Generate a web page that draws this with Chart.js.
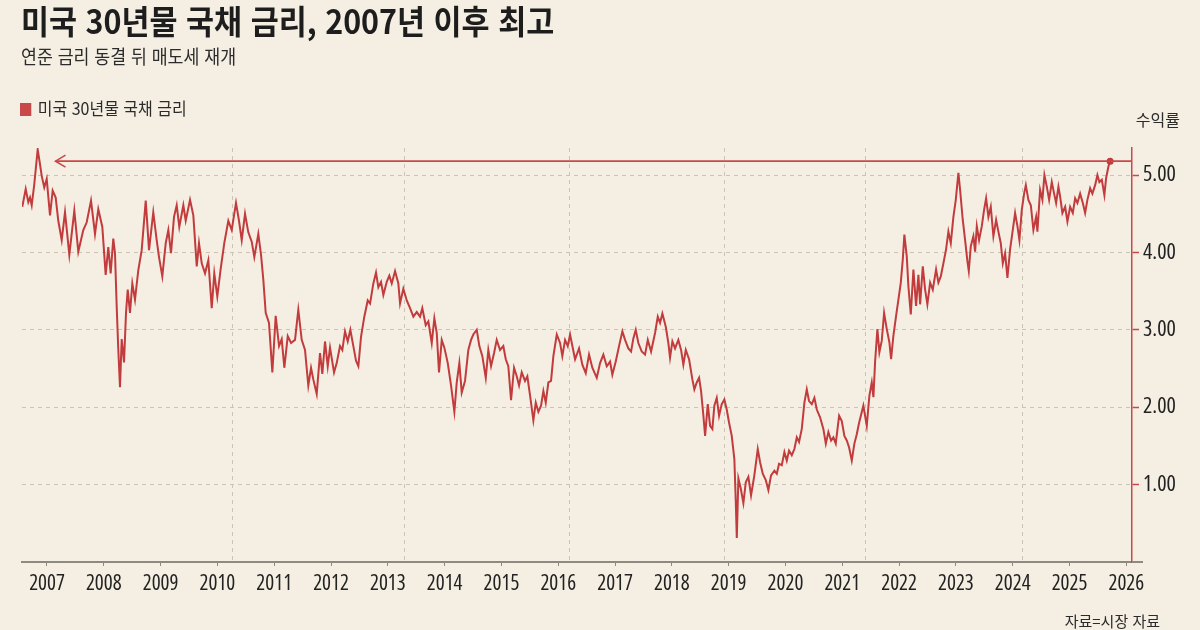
<!DOCTYPE html>
<html lang="ko">
<head>
<meta charset="utf-8">
<title>미국 30년물 국채 금리</title>
<script src="https://cdn.jsdelivr.net/npm/chart.js@4.4.1/dist/chart.umd.min.js"></script>
<style>
    html, body { margin: 0; padding: 0; }
    body {
        width: 1200px; height: 630px; overflow: hidden; position: relative;
        background: #f4eee3; color: #1d1d1d;
        font-family: 'Noto Sans CJK KR', 'Noto Sans', sans-serif;
    }
    .wrap { position: absolute; left: 0; top: 0; width: 1200px; height: 630px; }
    .title, .subtitle, .legend { transform-origin: left top; white-space: nowrap; position: absolute; }
    .title { left: 21px; top: -4px; font-size: 33px; font-weight: 700; transform: scaleX(0.923); }
    .subtitle { left: 21px; top: 42px; font-size: 19px; color: #2b2b2b; transform: scaleX(0.91); }
    .legend { left: 20px; top: 95px; font-size: 17px; color: #2b2b2b; transform: scaleX(0.94); }
    .legend i { display: inline-block; width: 12px; height: 13px; background: #c9484a; margin-right: 7px; vertical-align: -1px; }
    .unit { position: absolute; right: 20px; top: 107px; font-size: 16px; color: #2b2b2b; }
    .source { position: absolute; right: 40px; top: 610px; font-size: 15px; color: #2b2b2b; }
</style>
</head>
<body>
<div class="wrap"><canvas id="yield-chart"></canvas></div>
<div class="title">미국 30년물 국채 금리, 2007년 이후 최고</div>
<div class="subtitle">연준 금리 동결 뒤 매도세 재개</div>
<div class="legend"><i></i>미국 30년물 국채 금리</div>
<div class="unit">수익률</div>
<div class="source">자료=시장 자료</div>

<script>
// ============================================
// DATA (decimal year, yield %)
// ============================================
const dates = [
    2006.565, 2006.625, 2006.671, 2006.701, 2006.731, 2006.776, 2006.836, 2006.877, 2006.907, 2006.952,
    2006.995, 2007.053, 2007.100, 2007.153, 2007.199, 2007.259, 2007.317, 2007.393, 2007.481, 2007.551,
    2007.639, 2007.699, 2007.775, 2007.845, 2007.903, 2007.974, 2008.033, 2008.079, 2008.121, 2008.167,
    2008.197, 2008.227, 2008.255, 2008.285, 2008.315, 2008.356, 2008.391, 2008.421, 2008.461, 2008.502,
    2008.549, 2008.607, 2008.667, 2008.738, 2008.796, 2008.871, 2008.931, 2008.972, 2009.030, 2009.090,
    2009.136, 2009.183, 2009.236, 2009.283, 2009.329, 2009.400, 2009.442, 2009.518, 2009.576, 2009.636,
    2009.676, 2009.724, 2009.782, 2009.840, 2009.900, 2009.945, 2009.998, 2010.058, 2010.121, 2010.192,
    2010.252, 2010.327, 2010.380, 2010.428, 2010.486, 2010.544, 2010.604, 2010.650, 2010.720, 2010.768,
    2010.808, 2010.850, 2010.908, 2010.967, 2011.026, 2011.085, 2011.132, 2011.178, 2011.238, 2011.296,
    2011.366, 2011.424, 2011.484, 2011.542, 2011.600, 2011.648, 2011.688, 2011.748, 2011.806, 2011.847,
    2011.894, 2011.942, 2011.982, 2012.053, 2012.100, 2012.158, 2012.199, 2012.246, 2012.294, 2012.340,
    2012.393, 2012.440, 2012.481, 2012.528, 2012.586, 2012.646, 2012.687, 2012.745, 2012.792, 2012.833,
    2012.880, 2012.921, 2012.981, 2013.026, 2013.069, 2013.127, 2013.185, 2013.215, 2013.273, 2013.333,
    2013.391, 2013.449, 2013.509, 2013.567, 2013.607, 2013.667, 2013.713, 2013.773, 2013.819, 2013.861,
    2013.901, 2013.949, 2013.995, 2014.055, 2014.113, 2014.171, 2014.213, 2014.259, 2014.301, 2014.359,
    2014.417, 2014.465, 2014.505, 2014.565, 2014.611, 2014.664, 2014.724, 2014.769, 2014.817, 2014.870,
    2014.917, 2014.975, 2015.033, 2015.076, 2015.121, 2015.169, 2015.222, 2015.269, 2015.310, 2015.357,
    2015.415, 2015.456, 2015.504, 2015.562, 2015.604, 2015.650, 2015.697, 2015.738, 2015.780, 2015.826,
    2015.873, 2015.914, 2015.974, 2016.032, 2016.072, 2016.120, 2016.167, 2016.208, 2016.296, 2016.366,
    2016.424, 2016.484, 2016.542, 2016.600, 2016.678, 2016.736, 2016.794, 2016.854, 2016.912, 2016.952,
    2017.012, 2017.070, 2017.129, 2017.176, 2017.234, 2017.282, 2017.322, 2017.364, 2017.410, 2017.470,
    2017.528, 2017.576, 2017.634, 2017.704, 2017.752, 2017.792, 2017.833, 2017.893, 2017.938, 2017.968,
    2018.009, 2018.056, 2018.114, 2018.162, 2018.202, 2018.245, 2018.303, 2018.361, 2018.396, 2018.438,
    2018.479, 2018.514, 2018.555, 2018.585, 2018.632, 2018.673, 2018.713, 2018.748, 2018.790, 2018.831,
    2018.878, 2018.924, 2018.966, 2019.007, 2019.054, 2019.100, 2019.125, 2019.143, 2019.171, 2019.213,
    2019.259, 2019.301, 2019.347, 2019.394, 2019.452, 2019.512, 2019.553, 2019.600, 2019.653, 2019.699,
    2019.746, 2019.805, 2019.847, 2019.887, 2019.935, 2019.981, 2020.023, 2020.063, 2020.111, 2020.157,
    2020.199, 2020.239, 2020.287, 2020.333, 2020.375, 2020.415, 2020.463, 2020.509, 2020.551, 2020.609,
    2020.667, 2020.710, 2020.755, 2020.803, 2020.843, 2020.885, 2020.944, 2020.991, 2021.037, 2021.079,
    2021.120, 2021.167, 2021.213, 2021.255, 2021.296, 2021.371, 2021.431, 2021.477, 2021.519, 2021.548,
    2021.577, 2021.618, 2021.653, 2021.695, 2021.736, 2021.783, 2021.829, 2021.859, 2021.899, 2021.947,
    2021.988, 2022.030, 2022.065, 2022.093, 2022.135, 2022.164, 2022.206, 2022.252, 2022.299, 2022.340,
    2022.370, 2022.417, 2022.458, 2022.498, 2022.546, 2022.593, 2022.651, 2022.692, 2022.734, 2022.780,
    2022.827, 2022.868, 2022.910, 2022.956, 2022.998, 2023.044, 2023.074, 2023.121, 2023.162, 2023.202,
    2023.227, 2023.262, 2023.308, 2023.338, 2023.368, 2023.408, 2023.456, 2023.496, 2023.532, 2023.572,
    2023.614, 2023.660, 2023.708, 2023.748, 2023.790, 2023.826, 2023.866, 2023.907, 2023.954, 2024.001,
    2024.042, 2024.083, 2024.118, 2024.160, 2024.201, 2024.231, 2024.276, 2024.319, 2024.364, 2024.412,
    2024.435, 2024.482, 2024.523, 2024.558, 2024.600, 2024.641, 2024.688, 2024.729, 2024.764, 2024.805,
    2024.835, 2024.875, 2024.923, 2024.963, 2025.011, 2025.058, 2025.099, 2025.139, 2025.187, 2025.234,
    2025.275, 2025.315, 2025.363, 2025.403, 2025.451, 2025.491, 2025.526, 2025.569, 2025.614, 2025.644,
    2025.685, 2025.715,
];

const yields = [
    4.59, 4.82, 4.65, 4.71, 4.61, 4.88, 5.33, 5.14, 4.99, 4.84,
    4.95, 4.48, 4.80, 4.71, 4.41, 4.16, 4.52, 3.97, 4.54, 4.01,
    4.29, 4.39, 4.67, 4.24, 4.56, 4.33, 3.71, 4.07, 3.73, 4.18,
    3.99, 3.30, 2.75, 2.26, 2.88, 2.58, 3.22, 3.52, 3.22, 3.60,
    3.39, 3.77, 4.03, 4.67, 4.03, 4.52, 4.16, 3.94, 3.69, 4.12,
    4.29, 3.99, 4.46, 4.61, 4.33, 4.61, 4.41, 4.68, 4.48, 3.82,
    4.12, 3.86, 3.73, 3.90, 3.28, 3.73, 3.43, 3.79, 4.12, 4.41,
    4.29, 4.64, 4.41, 4.16, 4.50, 4.26, 4.14, 3.94, 4.24, 3.97,
    3.65, 3.22, 3.09, 2.45, 3.18, 2.79, 2.88, 2.51, 2.92, 2.83,
    2.87, 3.26, 2.87, 2.74, 2.28, 2.51, 2.36, 2.17, 2.70, 2.43,
    2.85, 2.53, 2.77, 2.45, 2.57, 2.79, 2.74, 2.98, 2.85, 3.00,
    2.79, 2.60, 2.53, 2.91, 3.17, 3.38, 3.34, 3.60, 3.74, 3.55,
    3.62, 3.45, 3.62, 3.70, 3.60, 3.76, 3.60, 3.34, 3.53, 3.38,
    3.28, 3.17, 3.23, 3.17, 3.28, 3.06, 3.11, 2.83, 3.15, 2.96,
    2.45, 2.87, 2.77, 2.57, 2.28, 1.94, 2.32, 2.57, 2.19, 2.34,
    2.74, 2.87, 2.94, 3.00, 2.79, 2.66, 2.38, 2.74, 2.53, 2.70,
    2.87, 2.74, 2.79, 2.62, 2.53, 2.09, 2.51, 2.40, 2.28, 2.45,
    2.34, 2.40, 2.15, 1.83, 2.06, 1.94, 2.02, 2.21, 2.06, 2.32,
    2.34, 2.66, 2.94, 2.83, 2.66, 2.87, 2.79, 2.94, 2.62, 2.76,
    2.55, 2.44, 2.68, 2.51, 2.38, 2.57, 2.68, 2.53, 2.59, 2.42,
    2.59, 2.79, 2.98, 2.87, 2.76, 2.72, 2.89, 3.00, 2.83, 2.72,
    2.68, 2.87, 2.72, 2.96, 3.17, 3.09, 3.21, 3.04, 2.83, 2.64,
    2.85, 2.76, 2.87, 2.74, 2.55, 2.74, 2.62, 2.36, 2.23, 2.32,
    2.38, 2.21, 1.89, 1.63, 2.04, 1.76, 1.72, 2.02, 2.12, 1.89,
    2.04, 2.10, 1.97, 1.80, 1.63, 1.33, 0.78, 0.31, 1.08, 0.95,
    0.76, 1.03, 1.10, 0.86, 1.12, 1.46, 1.29, 1.14, 1.06, 0.93,
    1.12, 1.18, 1.14, 1.27, 1.25, 1.42, 1.31, 1.44, 1.38, 1.46,
    1.61, 1.55, 1.72, 2.06, 2.23, 2.08, 2.04, 2.12, 1.97, 1.87,
    1.72, 1.53, 1.68, 1.57, 1.61, 1.53, 1.89, 1.82, 1.63, 1.57,
    1.48, 1.31, 1.53, 1.65, 1.80, 2.02, 1.76, 2.15, 2.32, 2.13,
    2.58, 3.01, 2.71, 2.86, 3.22, 3.01, 2.84, 2.62, 2.92, 3.18,
    3.39, 3.61, 3.91, 4.23, 3.95, 3.56, 3.20, 3.78, 3.31, 3.71,
    3.33, 3.82, 3.52, 3.33, 3.61, 3.52, 3.78, 3.61, 3.69, 3.86,
    4.04, 4.27, 4.12, 4.46, 4.68, 5.03, 4.81, 4.42, 4.16, 3.89,
    3.76, 4.08, 4.21, 4.01, 4.34, 4.16, 4.34, 4.55, 4.70, 4.46,
    4.59, 4.21, 4.42, 4.27, 4.12, 3.86, 3.99, 3.67, 4.04, 4.29,
    4.51, 4.34, 4.16, 4.55, 4.76, 4.87, 4.68, 4.61, 4.29, 4.46,
    4.27, 4.81, 4.68, 5.00, 4.85, 4.68, 4.91, 4.76, 4.64, 4.85,
    4.72, 4.51, 4.59, 4.40, 4.59, 4.51, 4.70, 4.64, 4.76, 4.64,
    4.51, 4.68, 4.83, 4.76, 4.87, 5.00, 4.91, 4.94, 4.74, 4.96,
    5.11, 5.18,
];

// axis ticks
const yearTicks = [2007, 2008, 2009, 2010, 2011, 2012, 2013, 2014, 2015, 2016,
    2017, 2018, 2019, 2020, 2021, 2022, 2023, 2024, 2025, 2026];
const yieldTicks = [1, 2, 3, 4, 5];
// dashed vertical guides as drawn in the original
const guideYears = [2010.27, 2013.30, 2016.19, 2018.92, 2021.40, 2024.18];

// arrow: latest level pointing back to the 2007 peak
const arrowLevel = 5.18;
const arrowStart = 2007.15;

// ============================================
// STYLE
// ============================================
const colors = {
    line: '#c23b3d',
    axisRed: '#c9484a',
    grid: '#cbc3b4',
    axisGray: '#8f8a80',
    text: '#222222',
};
// 'condensed' goes into the canvas font shorthand (Open Sans has a width axis)
const numFont = "'Open Sans', 'Roboto Condensed', sans-serif";

const arrowPlugin = {
    id: 'arrowLine',
    afterDatasetsDraw(chart) {
        const { ctx, chartArea, scales } = chart;
        const py = scales.y.getPixelForValue(arrowLevel);
        const px = scales.x.getPixelForValue(arrowStart);
        ctx.save();
        ctx.strokeStyle = colors.axisRed;
        ctx.lineWidth = 1.6;
        ctx.beginPath();
        ctx.moveTo(chartArea.right, py);
        ctx.lineTo(px, py);
        ctx.stroke();
        ctx.beginPath();
        ctx.moveTo(px + 10, py - 6);
        ctx.lineTo(px, py);
        ctx.lineTo(px + 10, py + 6);
        ctx.stroke();
        // base line runs a little past the value axis
        ctx.strokeStyle = colors.axisGray;
        ctx.lineWidth = 2;
        ctx.beginPath();
        ctx.moveTo(chartArea.right, chartArea.bottom);
        ctx.lineTo(chartArea.right + 11, chartArea.bottom);
        ctx.stroke();
        ctx.restore();
    },
};

// ============================================
// CHART
// ============================================
function createYieldChart() {
    const ctx = document.getElementById('yield-chart');
    if (!ctx) return;

    const points = dates.map((d, i) => ({ x: d, y: yields[i] }));
    const radii = points.map((p, i) => (i === points.length - 1 ? 2.5 : 0));

    new Chart(ctx, {
        type: 'line',
        data: {
            datasets: [
                {
                    label: '미국 30년물 국채 금리',
                    data: points,
                    borderColor: colors.line,
                    backgroundColor: colors.line,
                    borderWidth: 2,
                    tension: 0,
                    pointRadius: radii,
                    pointHoverRadius: 0,
                },
            ],
        },
        options: {
            responsive: true,
            maintainAspectRatio: false,
            animation: false,
            layout: { padding: { top: 148, left: 22, right: 0, bottom: 0 } },
            plugins: {
                legend: { display: false },
                tooltip: { enabled: false },
            },
            scales: {
                x: {
                    type: 'linear',
                    min: 2006.56,
                    max: 2026.1,
                    afterBuildTicks: (scale) => {
                        scale.ticks = yearTicks.map((v) => ({ value: v }));
                    },
                    afterFit: (scale) => { scale.height = 68; },
                    grid: {
                        drawOnChartArea: false,
                        drawTicks: true,
                        tickLength: 4,
                        tickColor: colors.axisGray,
                        color: colors.axisGray,
                    },
                    border: { color: colors.axisGray, width: 2 },
                    ticks: {
                        autoSkip: false,
                        maxRotation: 0,
                        padding: 5,
                        color: colors.text,
                        font: { family: numFont, size: 21, weight: 'condensed' },
                        callback: (v) => String(v),
                    },
                },
                xg: {
                    type: 'linear',
                    position: 'bottom',
                    min: 2006.56,
                    max: 2026.1,
                    afterBuildTicks: (scale) => {
                        scale.ticks = guideYears.map((v) => ({ value: v }));
                    },
                    afterFit: (scale) => { scale.height = 0; },
                    grid: { color: colors.grid, lineWidth: 1, drawTicks: false },
                    border: { display: false, dash: [4, 4] },
                    ticks: { display: false },
                },
                y: {
                    position: 'right',
                    min: 0,
                    max: 5.35,
                    afterBuildTicks: (scale) => {
                        scale.ticks = yieldTicks.map((v) => ({ value: v }));
                    },
                    afterFit: (scale) => { scale.width = 68; },
                    grid: {
                        color: colors.grid,
                        lineWidth: 1,
                        drawTicks: true,
                        tickLength: 7,
                        tickColor: colors.axisRed,
                        tickWidth: 1.5,
                        tickBorderDash: [],
                    },
                    border: { color: colors.axisRed, width: 1.5, dash: [4, 4] },
                    ticks: {
                        padding: 4,
                        color: colors.text,
                        font: { family: numFont, size: 22, weight: 'condensed' },
                        callback: (v) => Number(v).toFixed(2),
                    },
                },
            },
        },
        plugins: [arrowPlugin],
    });
}

createYieldChart();
</script>
</body>
</html>
